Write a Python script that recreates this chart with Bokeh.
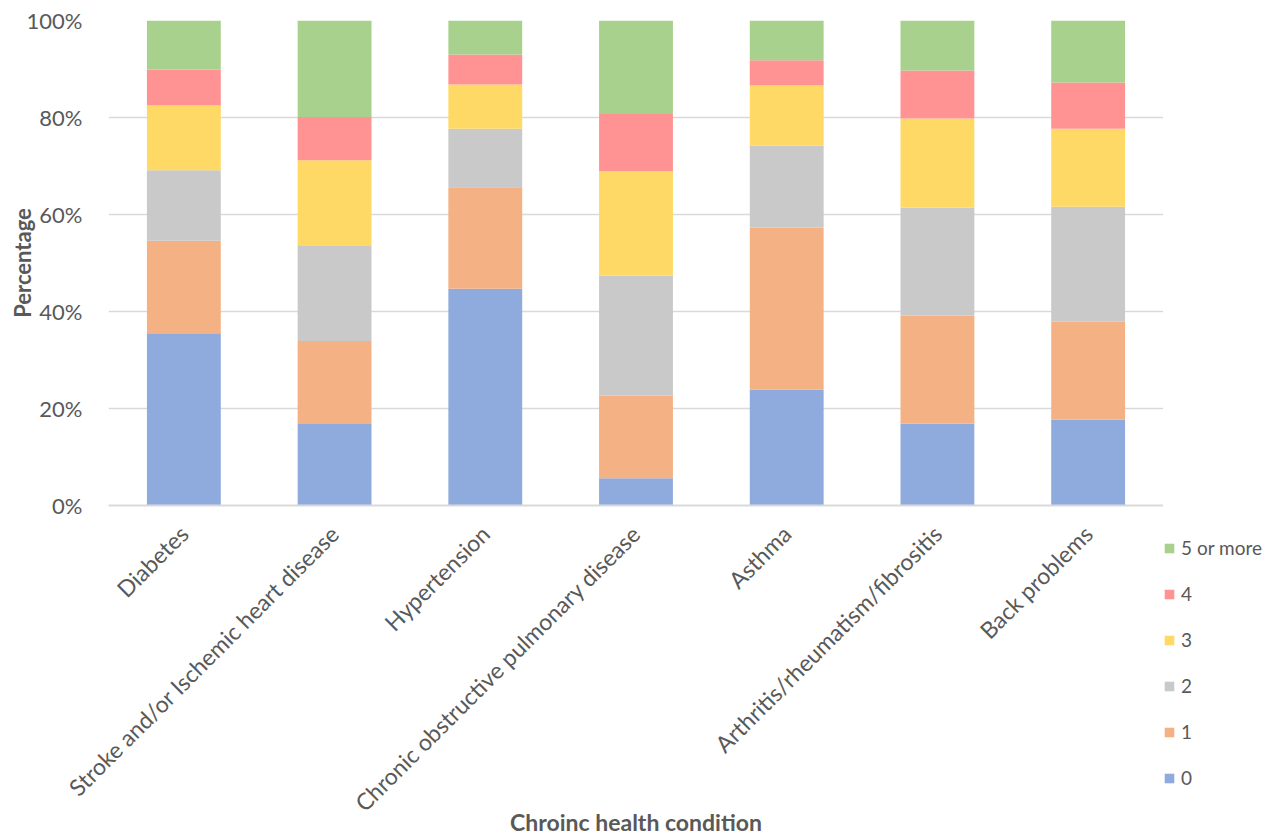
from bokeh.plotting import figure
from bokeh.models import Legend, LegendItem, PrintfTickFormatter, FixedTicker, Spacer
from bokeh.layouts import row, column
from bokeh.embed import file_html
from bokeh.resources import INLINE
from math import pi

conditions = ["Diabetes", "Stroke and/or Ischemic heart disease", "Hypertension",
              "Chronic obstructive pulmonary disease", "Asthma",
              "Arthritis/rheumatism/fibrositis", "Back problems"]
levels = ["0", "1", "2", "3", "4", "5 or more"]
v0 = [35.5, 16.8, 44.7, 5.6, 23.9, 16.9, 17.7]
v1 = [19.1, 17.1, 20.9, 17.1, 33.4, 22.3, 20.2]
v2 = [14.5, 19.6, 12.1, 24.7, 16.9, 22.2, 23.7]
v3 = [13.4, 17.7, 9.1, 21.5, 12.4, 18.4, 16.1]
v4 = [7.4, 8.9, 6.2, 11.8, 5.2, 9.9, 9.5]
v5 = [10.1, 19.9, 7.0, 19.3, 8.2, 10.3, 12.8]
y_ticks = [0, 20, 40, 60, 80, 100]
colors = ["#8faadc", "#f4b183", "#c9c9c9", "#ffd966", "#ff9393", "#a9d18e"]

data = {"cond": conditions, "0": v0, "1": v1, "2": v2, "3": v3, "4": v4, "5 or more": v5}

FONT = "Lato"
TXT = "#595959"

p = figure(x_range=conditions, y_range=(0, 100), width=1163, height=839,
           output_backend="svg", toolbar_location=None,
           min_border_left=108, min_border_right=0, min_border_top=20,
           min_border_bottom=334)

rs = p.vbar_stack(levels, x="cond", width=0.49, source=data, color=colors,
                  line_color=None)

p.outline_line_color = None
p.xgrid.grid_line_color = None
p.ygrid.grid_line_color = "#d9d9d9"
p.ygrid.grid_line_width = 1.5
p.yaxis.ticker = FixedTicker(ticks=y_ticks)
p.yaxis.formatter = PrintfTickFormatter(format="%d%%")
p.yaxis.axis_line_color = None
p.yaxis.major_tick_line_color = None
p.yaxis.minor_tick_line_color = None
p.yaxis.major_label_standoff = 20
p.yaxis.major_label_text_font = FONT
p.yaxis.major_label_text_font_size = "22px"
p.yaxis.major_label_text_color = TXT
p.yaxis.axis_label = "Percentage"
p.yaxis.axis_label_text_font = FONT
p.yaxis.axis_label_text_font_size = "22px"
p.yaxis.axis_label_text_font_style = "bold"
p.yaxis.axis_label_text_color = TXT
p.yaxis.axis_label_standoff = -12

p.xaxis.axis_line_color = "#d9d9d9"
p.xaxis.axis_line_width = 2
p.xaxis.major_tick_line_color = None
p.xaxis.minor_tick_line_color = None
p.xaxis.major_label_orientation = pi / 4
p.xaxis.major_label_standoff = 18
p.xaxis.major_label_text_font = FONT
p.xaxis.major_label_text_font_size = "23px"
p.xaxis.major_label_text_color = TXT
p.xaxis.axis_label = "Chroinc health condition"
p.xaxis.axis_label_text_font = FONT
p.xaxis.axis_label_text_font_size = "23px"
p.xaxis.axis_label_text_font_style = "bold"
p.xaxis.axis_label_text_color = TXT
p.xaxis.axis_label_standoff = -21

# legend panel: a small figure below a spacer, to the right of the chart
pl = figure(width=100, height=339, output_backend="svg", toolbar_location=None,
            x_range=(0, 1), y_range=(0, 1), x_axis_location=None, y_axis_location=None,
            min_border=0, min_border_left=0, min_border_right=0,
            min_border_top=0, min_border_bottom=0)
pl.outline_line_color = None
pl.grid.visible = False
dummies = [pl.vbar(x=[5], top=[1], width=0.5, color=c, line_color=None) for c in colors]
items = [LegendItem(label=levels[i], renderers=[dummies[i]]) for i in reversed(range(len(levels)))]
legend = Legend(items=items, location=(0, 50), orientation="vertical",
                glyph_width=12, glyph_height=12, label_height=23, spacing=23,
                padding=0, margin=0, border_line_color=None,
                background_fill_alpha=0, label_text_font=FONT,
                label_text_font_size="19px", label_text_color=TXT,
                label_standoff=6)
pl.add_layout(legend, "center")

layout = row(p, column(Spacer(width=100, height=500), pl))
open("out.html", "w").write(file_html(layout, INLINE))
